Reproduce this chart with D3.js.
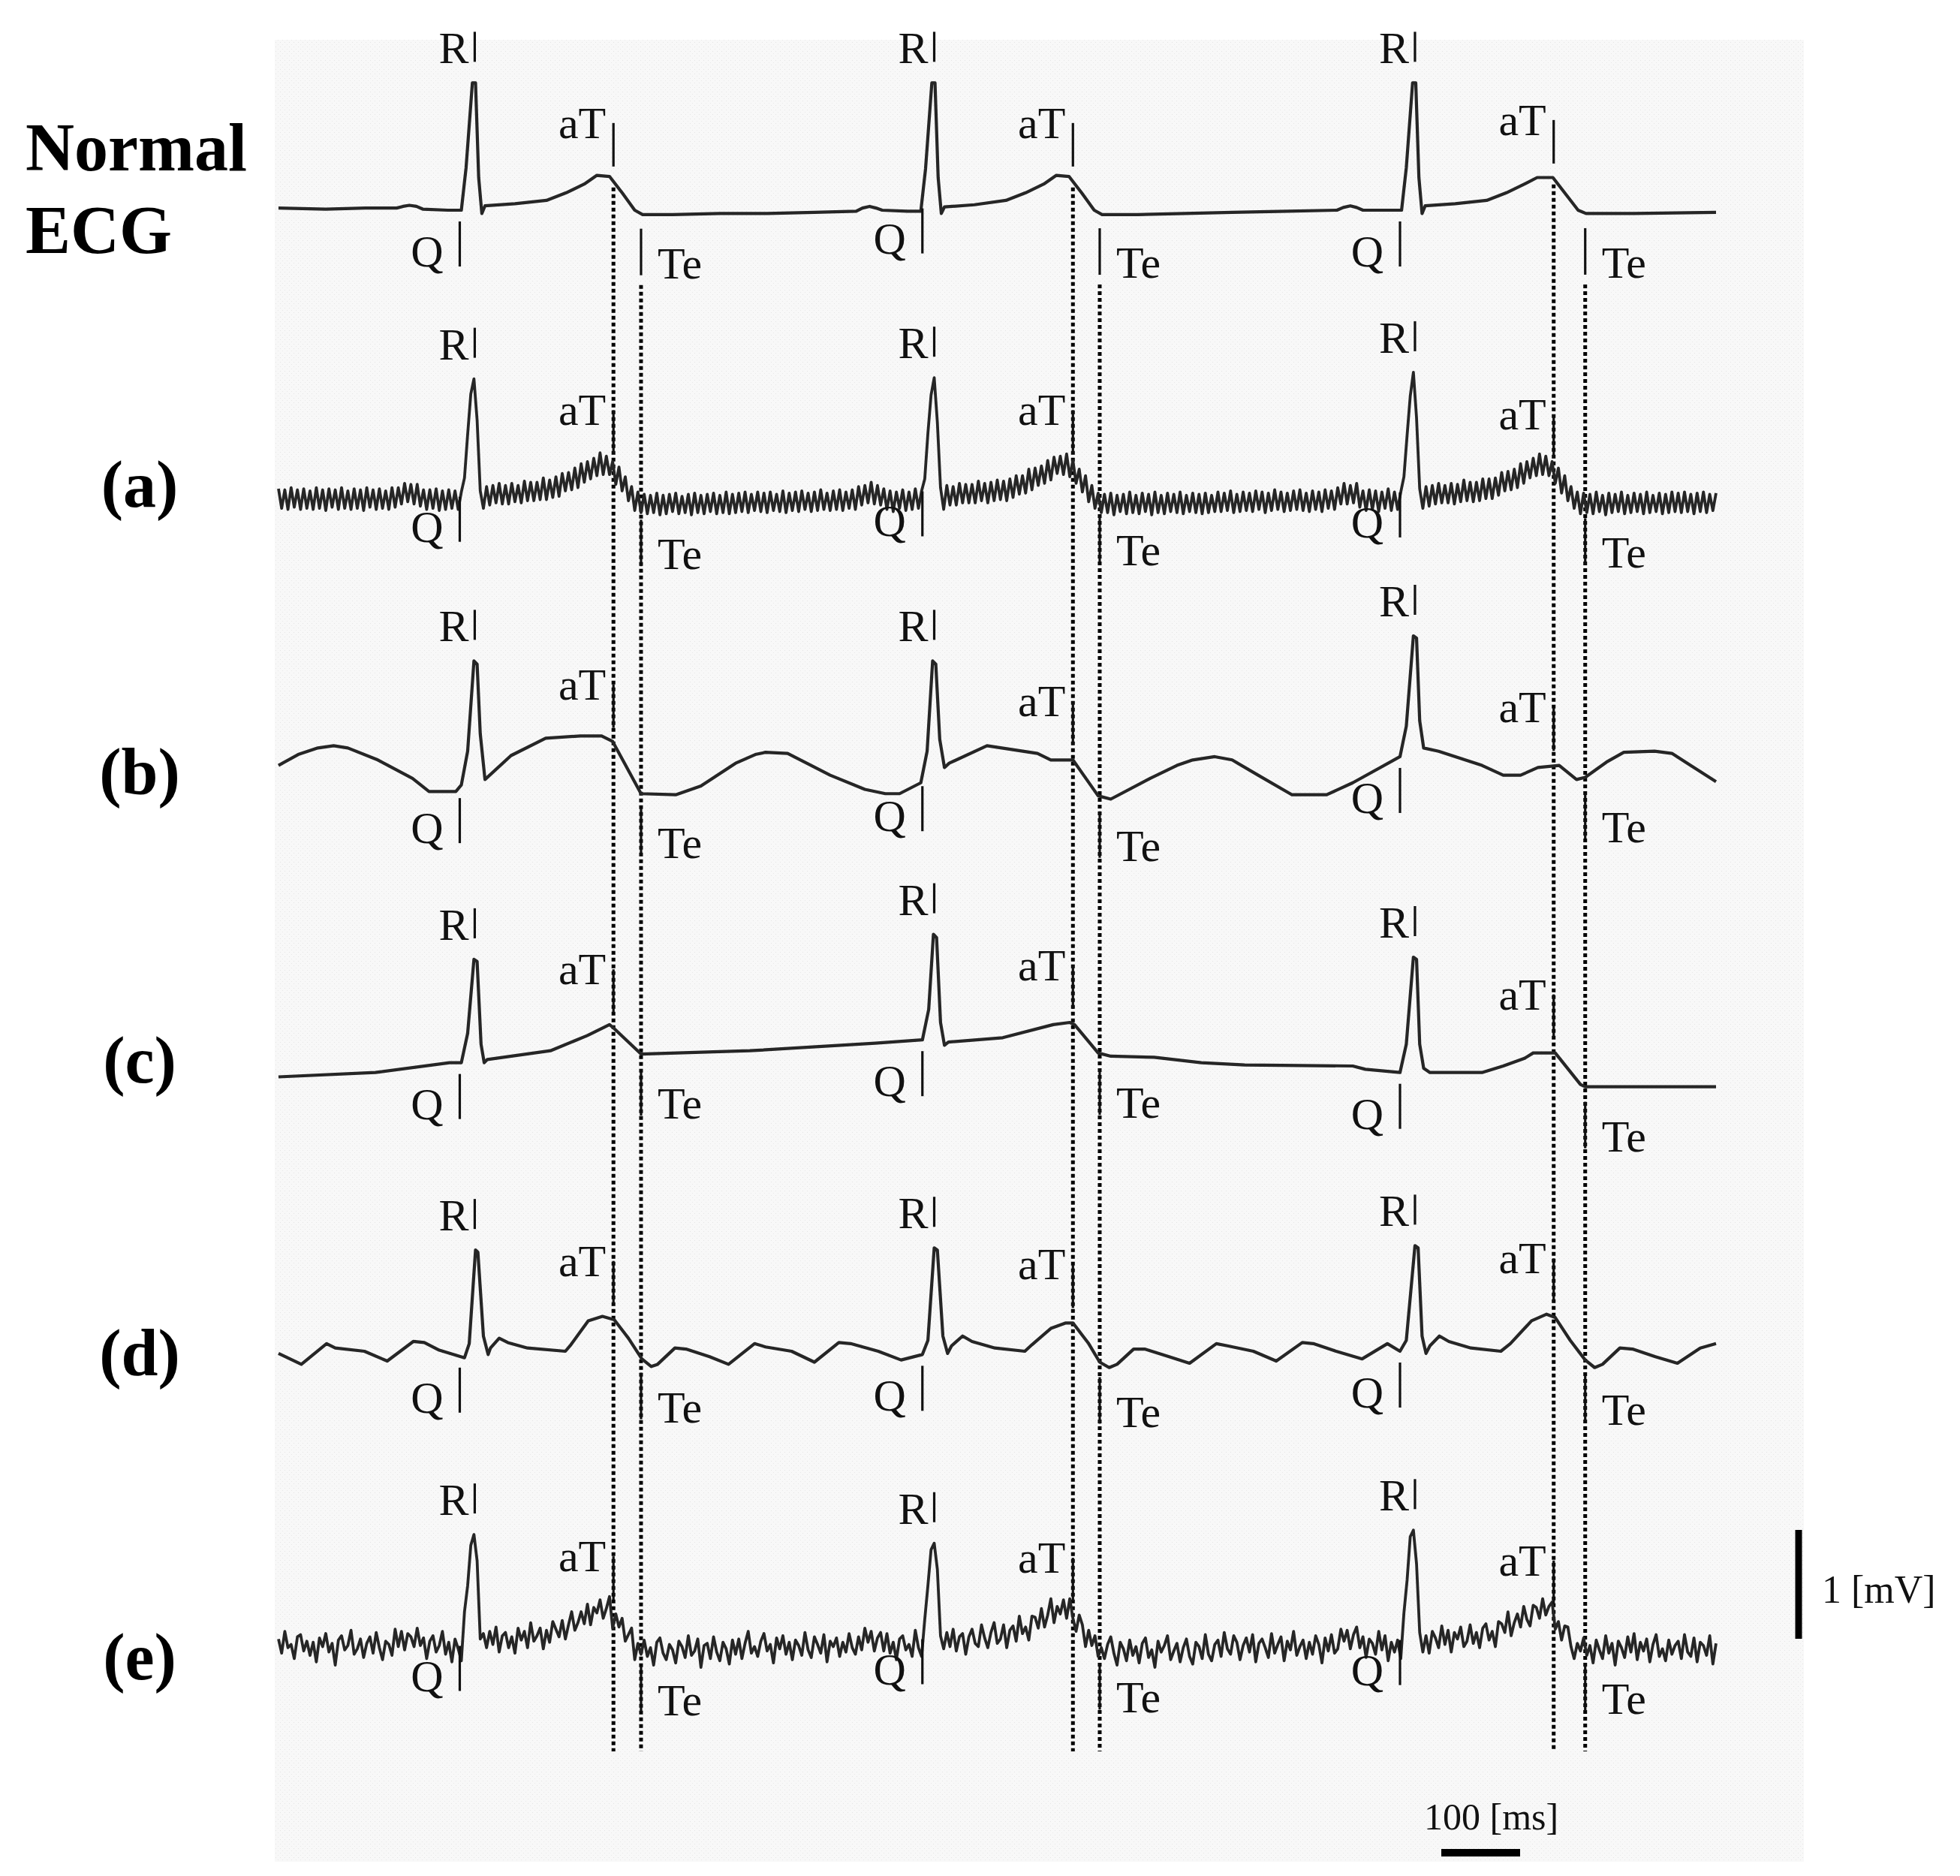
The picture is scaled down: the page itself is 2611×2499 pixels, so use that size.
<!DOCTYPE html>
<html><head><meta charset="utf-8">
<script src="https://cdn.jsdelivr.net/npm/d3@7"></script>
<style>body{margin:0;background:#fff}svg{display:block}</style>
</head><body>
<svg id="chart" width="2611" height="2499"></svg>
<script>
// ---------------- DATA (time in ms, amplitude in mV) ----------------
const rowLabels = ["Normal|ECG", "(a)", "(b)", "(c)", "(d)", "(e)"];
const qTimes  = [230, 817, 1423];
const rTimes  = [249, 832, 1442];
const aTTimes = [425, 1008, 1618];
const teTimes = [460, 1042, 1658];
const scaleMv = 1;      // vertical scale bar: 1 mV
const scaleMs = 100;    // horizontal scale bar: 100 ms
const sampleMs = 4;     // sampling step of the noisy traces (a) and (e)

const normalECG = [
[0,0.02],[60,0.01],[110,0.02],[150,0.02],[158,0.035],[166,0.045],[175,0.035],[183,0.01],[215,0.0],[232,0.0],[238,0.39],[246,1.17],[250,1.17],[254,0.30],[258,-0.03],[262,0.04],[300,0.06],[340,0.09],[365,0.16],[388,0.24],[404,0.32],[420,0.31],[436,0.16],[452,0.0],[462,-0.04],[500,-0.04],[560,-0.03],
[620,-0.03],[680,-0.02],[733,-0.01],[741,0.02],[750,0.035],[758,0.02],[766,0.0],[798,-0.01],[815,-0.01],[821,0.38],[829,1.17],[833,1.17],[837,0.30],[841,-0.03],[845,0.03],[883,0.05],[923,0.09],[948,0.16],[971,0.24],[987,0.32],[1003,0.31],[1019,0.16],[1035,0.0],[1045,-0.04],[1090,-0.04],[1150,-0.03],
[1210,-0.02],[1280,-0.01],[1343,0.0],[1351,0.025],[1360,0.04],[1368,0.025],[1376,0.0],[1408,0.0],[1425,0.0],[1431,0.39],[1439,1.17],[1443,1.17],[1447,0.30],[1451,-0.03],[1455,0.04],[1493,0.06],[1533,0.09],[1558,0.16],[1581,0.24],[1597,0.30],[1617,0.30],[1633,0.15],[1649,0.0],[1659,-0.03],[1720,-0.03],[1824,-0.02]
];

// (a) ECG with power-line interference, samples every 4 ms, in 0.01 mV
const rowA = [
11,-7,10,-8,12,-6,10,-8,11,-7, 9,-8,12,-7,10,-9,11,-6,10,-8, 12,-7,9,-8,11,-7,10,-9,12,-6, 10,-8,11,-7,9,-8,12,-6,
12,-3,16,-1,15,-3,15,-5,10, -8,10,-7,11,-9,9,-8,10,-7,9,-8, 8,21,61,98,112,74,9,-7,
13,-4,14,-2,16,-3,14,-3,16,-1, 14,-2,18,0,17,0,17,1,21,1, 19,3,22,4,25,9,26,10,30,12, 34,17,36,20,39,23,44,24,41,24, 36,15,31,9,22,0,13,-9,8,-11,
6,-12,5,-11,7,-13,5,-12,6,-10, 7,-12,4,-11,6,-13,7,-11,5,-12, 6,-10,7,-12,5,-11,8,-12,6,-11,
7,-10,8,-11,6,-9,8,-10,7,-11, 8,-9,6,-10,9,-11,7,-9,8,-10, 9,-8,7,-10,8,-9,10,-8,7,-9, 9,-8,10,-9,8,-7,10,-8,
13,-4,14,-2,17,-3,14,-4,11, -8,9,-10,8,-7,10,-9,8,-8,11,-7, 9,20,62,97,113,72,12,-8,
14,-4,13,-4,16,-2,15,-2,15,-2, 18,0,16,-2,17,0,19,1,18,0, 20,3,23,6,23,7,29,10,30,14, 32,16,37,19,40,25,41,24,43,22, 37,16,29,8,23,-1,14,-7,7,-11,
6,-11,7,-13,5,-10,6,-12,8,-11, 5,-12,7,-10,6,-13,8,-11,5,-12, 7,-10,6,-11,8,-12,5,-10,7,-11, 6,-12,7,-11,5,-10,
8,-10,7,-9,9,-11,6,-10,8,-9, 7,-10,9,-8,8,-11,7,-9,10,-8, 8,-10,7,-9,9,-8,10,-9,7,-10, 9,-8,8,-10,10,-7,9,-8,
12,-3,16,-3,14,-2,16,-6,9, -9,10,-8,9,-10,8,-7,11,-9,8,-8, 8,22,60,96,118,76,11,-7,
13,-5,14,-3,16,-2,14,-2,16,-3, 15,-1,19,0,17,-1,17,0,20,2, 20,2,21,5,26,9,27,10,29,12, 34,16,36,21,39,23,43,24,41,23, 36,16,30,7,23,0,13,-7,8,-12,
7,-11,6,-12,8,-10,5,-13,7,-11, 6,-10,8,-12,5,-11,7,-10,6,-12, 8,-11,5,-10,7,-12,6,-11,8,-10,
7,-11,8,-10,6,-12,7,-10,8,-11,6,-9,7
];

// (b) ECG with baseline wander
const rowB = [
[0,0.21],[25,0.31],[50,0.37],[70,0.39],[88,0.37],[126,0.26],[170,0.09],[191,-0.03],[225,-0.03],[232,0.03],[240,0.34],[248,1.17],[252,1.14],[256,0.5],[262,0.08],[295,0.30],[339,0.46],[383,0.48],[410,0.48],[424,0.43],[460,-0.05],[504,-0.06],[536,0.02],[580,0.23],[605,0.31],[618,0.33],[646,0.32],[700,0.12],[744,-0.01],[770,-0.05],[788,-0.05],[815,0.05],
[823,0.34],[830,1.17],[834,1.14],[839,0.45],[845,0.19],[851,0.23],[899,0.39],[963,0.32],[980,0.26],[1008,0.26],[1040,-0.07],[1056,-0.10],[1106,0.09],[1140,0.21],[1160,0.26],[1188,0.29],[1210,0.26],[1243,0.12],[1286,-0.06],[1330,-0.06],[1363,0.05],
[1423,0.29],[1431,0.57],[1440,1.40],[1444,1.38],[1448,0.62],[1453,0.37],[1472,0.34],[1527,0.21],[1554,0.12],[1576,0.12],[1598,0.19],[1625,0.21],[1647,0.08],[1658,0.10],[1685,0.24],[1707,0.33],[1746,0.34],[1768,0.32],[1824,0.06]
];

// (c) ECG with baseline drift
const rowC = [
[0,-0.10],[123,-0.06],[217,0.03],[232,0.03],[240,0.30],[248,0.98],[252,0.96],[257,0.20],[261,0.03],[265,0.06],[345,0.14],[392,0.28],[420,0.38],[425,0.35],[460,0.11],[598,0.14],[757,0.21],[817,0.24],
[825,0.52],[831,1.21],[835,1.18],[840,0.40],[845,0.19],[850,0.22],[919,0.26],[983,0.38],[1004,0.40],[1010,0.38],[1040,0.12],[1056,0.09],[1111,0.08],[1171,0.03],[1226,0.01],[1363,0.0],[1379,-0.03],[1423,-0.06],
[1431,0.20],[1440,1.00],[1444,0.98],[1448,0.20],[1453,-0.02],[1461,-0.06],[1527,-0.06],[1554,0.0],[1581,0.07],[1592,0.12],[1620,0.12],[1652,-0.17],[1658,-0.19],[1824,-0.19]
];

// (d) ECG with periodic artefact
const rowD = [
[0,-0.02],[29,-0.12],[61,0.07],[72,0.03],[109,0.0],[138,-0.09],[171,0.09],[185,0.08],[204,0.01],[236,-0.06],[242,0.07],[250,0.93],[253,0.91],[260,0.14],[266,-0.03],[269,0.03],[280,0.12],[291,0.08],[316,0.03],[364,0.0],[371,0.06],[393,0.28],[411,0.32],[426,0.29],[444,0.12],[461,-0.07],[473,-0.14],[481,-0.12],[503,0.03],[517,0.02],[547,-0.05],[571,-0.12],[604,0.07],[618,0.04],[651,0.0],[680,-0.10],[711,0.08],[726,0.07],[761,0.0],[790,-0.08],
[817,-0.03],[824,0.10],[832,0.95],[836,0.93],[843,0.14],[849,-0.02],[854,0.05],[868,0.14],[880,0.09],[909,0.03],[947,0.0],[956,0.06],[980,0.21],[999,0.26],[1008,0.26],[1028,0.07],[1042,-0.10],[1054,-0.15],[1064,-0.12],[1085,0.02],[1099,0.02],[1130,-0.05],[1156,-0.11],[1190,0.07],[1204,0.05],[1237,0.0],[1266,-0.09],[1299,0.08],[1313,0.07],[1342,0.0],[1375,-0.07],[1407,0.07],
[1423,0.0],[1431,0.10],[1442,0.97],[1446,0.95],[1451,0.14],[1456,-0.02],[1461,0.05],[1473,0.14],[1485,0.09],[1513,0.03],[1551,0.0],[1563,0.07],[1590,0.28],[1609,0.34],[1620,0.31],[1639,0.10],[1658,-0.08],[1670,-0.15],[1680,-0.12],[1702,0.03],[1718,0.02],[1747,-0.05],[1775,-0.11],[1804,0.03],[1824,0.07]
];

// (e) ECG with random noise, samples every 4 ms, in 0.01 mV
const rowE = [
6,-7,13,-2,1,-12,8,10,-5,4, -9,3,-15,7,-1,11,-6,2,-18,5, 9,-4,0,14,-8,-3,6,-11,2,8, -7,12,-2,-13,4,1,-9,15,
-1,13,-4,11,8,-1,16,0,7, -12,4,9,-6,0,13,-8,3,-15,6,-3, -14,31,55,92,102,78,6,11,
-2,13,1,17,-6,9,12,-2,8,-7, 16,5,13,-2,21,4,9,16,-3,14, 3,22,15,8,23,6,19,31,14,21, 31,20,38,19,35,30,42,25,34,45, 16,29,17,25,4,10,16,-13,2,-8,
5,-10,-2,-18,3,7,-7,-13,1,-4, -16,4,-1,-11,9,-9,-5,6,-20,0, 2,-12,8,-6,-14,3,-3,-17,5,-8,
6,-12,2,13,-7,-1,-10,4,11,-5, 1,-16,7,-3,9,-8,3,-13,5,0, -9,12,-4,-11,8,1,-7,10,-15,4, -1,7,-10,3,-6,11,-2,-8,
8,-4,16,3,13,-5,7,12,-5, 11,-7,3,-13,6,9,-4,1,-10,14,-2, -10,24,55,88,94,70,9,-3,
12,-1,15,-5,8,11,-8,8,15,2, -1,19,7,-2,12,21,2,6,19,-2, 14,18,4,27,11,17,5,27,26,16, 34,17,28,43,21,36,29,42,25,43, 25,13,28,19,-1,14,0,9,-10,-2,
-12,1,8,-7,-18,3,-3,-14,5,-9, -1,-16,2,7,-11,-4,-20,4,-6,0, 9,-13,-5,2,-15,-2,6,-10,-17,3, -1,-12,10,-8,-14,1,
5,-10,12,-3,-8,9,3,-13,0,7, -6,10,-15,2,6,-2,-11,11,-7,1, 8,-14,4,-4,13,-9,-1,5,-12,3, -8,9,1,-16,7,-5,10,-7,
-3,15,4,14,-3,10,17,-2,8, -11,6,2,-8,13,-4,9,-14,3,-6,5, -12,30,60,100,106,75,12,-6,
9,-7,13,7,-2,18,1,14,-6,12, 6,17,-1,4,19,2,12,-2,16,20, 5,13,-1,22,20,12,31,9,21,29, 17,36,24,18,37,35,25,43,28,36, 40,15,22,5,18,17,-1,-12,2,-5,
7,-9,0,-16,5,-4,-12,9,-7,2, -18,4,-2,-11,8,-6,11,-13,3,-5, 6,-15,1,10,-10,-3,-14,5,-8,0,
4,-12,10,-6,-10,7,-15,3,0,-9,9,-17,2
];

// ---------------- LAYOUT ----------------
const PX_PER_MV = 145;
const rowBase = [280, 667, 1050, 1420, 1800, 2192];
const rowLabelY = [[227, 337], [675], [1058], [1442], [1832], [2237]];
const serif = "'Liberation Serif','Times New Roman',serif";
const ink = "#111";

const svg = d3.select("#chart");
const x = d3.scaleLinear().domain([0, 1824]).range([371, 2286]);
const yScales = rowBase.map(b => d3.scaleLinear().domain([0, 1]).range([b, b - PX_PER_MV]));

const toSeries = vals => vals.map((v, i) => [i * sampleMs, v / 100]);
const series = [normalECG, toSeries(rowA), rowB, rowC, rowD, toSeries(rowE)];
const noisy = [false, true, false, false, false, true];

// background panel (light dotted paper)
const defs = svg.append("defs");
const pat = defs.append("pattern").attr("id", "paper").attr("width", 6).attr("height", 6)
  .attr("patternUnits", "userSpaceOnUse");
pat.append("rect").attr("width", 6).attr("height", 6).attr("fill", "#f8f8f8");
pat.append("rect").attr("x", 1).attr("y", 2).attr("width", 1).attr("height", 1).attr("fill", "#e4e4e4");
pat.append("rect").attr("x", 4).attr("y", 5).attr("width", 1).attr("height", 1).attr("fill", "#e8e8e8");
svg.append("rect").attr("x", 366).attr("y", 53).attr("width", 2037).attr("height", 2427)
  .attr("fill", "url(#paper)");

function valueAt(ri, t) {
  const s = series[ri];
  if (noisy[ri]) {
    const near = s.filter(d => Math.abs(d[0] - t) <= 10);
    return d3.mean(near, d => d[1]);
  }
  const f = d3.scaleLinear().domain(s.map(d => d[0])).range(s.map(d => d[1]));
  return f(t);
}
function peakAt(ri, t) {
  const s = series[ri];
  const near = s.filter(d => Math.abs(d[0] - t) <= 8);
  return d3.max(near, d => d[1]);
}

// dotted guide lines
const gGuide = svg.append("g");
const yGuideEnd = 2333;
aTTimes.forEach(t => {
  const top = yScales[0](valueAt(0, t)) + 8;
  gGuide.append("line").attr("x1", x(t)).attr("x2", x(t)).attr("y1", top).attr("y2", yGuideEnd)
    .attr("stroke", "#000").attr("stroke-width", 5).attr("stroke-dasharray", "5,4");
});
teTimes.forEach(t => {
  const top = yScales[0](valueAt(0, t)) + 95;
  gGuide.append("line").attr("x1", x(t)).attr("x2", x(t)).attr("y1", top).attr("y2", yGuideEnd)
    .attr("stroke", "#000").attr("stroke-width", 5).attr("stroke-dasharray", "5,4");
});

// traces
series.forEach((s, ri) => {
  const line = d3.line().x(d => x(d[0])).y(d => yScales[ri](d[1]));
  svg.append("path").datum(s).attr("d", line).attr("fill", "none")
    .attr("stroke", "#262626").attr("stroke-width", noisy[ri] ? 3.8 : 4.2)
    .attr("stroke-linejoin", "round");
});

// annotations
const gAnn = svg.append("g").attr("font-family", serif).attr("font-size", 60).attr("fill", ink);
function tick(xp, y1, y2) {
  gAnn.append("line").attr("x1", xp).attr("x2", xp).attr("y1", y1).attr("y2", y2)
    .attr("stroke", ink).attr("stroke-width", 3.2);
}
function label(txt, xp, yp, anchor) {
  gAnn.append("text").attr("x", xp).attr("y", yp).attr("text-anchor", anchor).text(txt);
}
series.forEach((s, ri) => {
  const y = yScales[ri];
  rTimes.forEach((t, bi) => {
    const yR = y(peakAt(ri, t));
    tick(x(t), yR - 68, yR - 28);
    label("R", x(t) - 8, yR - 26, "end");

    const yQ = y(valueAt(ri, qTimes[bi]));
    tick(x(qTimes[bi]), yQ + 15, yQ + 75);
    label("Q", x(qTimes[bi]) - 22, yQ + 75, "end");

    const yA = y(valueAt(ri, aTTimes[bi]));
    tick(x(aTTimes[bi]), yA - 78, yA - 20);
    label("aT", x(aTTimes[bi]) - 10, yA - 58, "end");

    const yE = y(valueAt(ri, teTimes[bi]));
    tick(x(teTimes[bi]), yE + 20, yE + 82);
    label("Te", x(teTimes[bi]) + 22, yE + 86, "start");
  });
});

// row labels
const gRow = svg.append("g").attr("font-family", serif).attr("font-weight", "bold").attr("fill", "#000");
rowLabels.forEach((lab, ri) => {
  const parts = lab.split("|");
  if (parts.length > 1) {
    parts.forEach((p, k) => gRow.append("text").attr("x", 34).attr("y", rowLabelY[ri][k])
      .attr("font-size", 90).text(p));
  } else {
    gRow.append("text").attr("x", 186).attr("y", rowLabelY[ri][0]).attr("text-anchor", "middle")
      .attr("font-size", 88).text(lab);
  }
});

// scale bars
const gScale = svg.append("g").attr("font-family", serif).attr("fill", ink);
const mvBottom = 2183, mvX = 2396;
const mvLen = yScales[0](0) - yScales[0](scaleMv);
gScale.append("line").attr("x1", mvX).attr("x2", mvX).attr("y1", mvBottom).attr("y2", mvBottom - mvLen)
  .attr("stroke", "#000").attr("stroke-width", 9);
gScale.append("text").attr("x", 2427).attr("y", 2135).attr("font-size", 52).text(scaleMv + " [mV]");

const msLeft = 1920, msY = 2468;
const msLen = x(scaleMs) - x(0);
gScale.append("line").attr("x1", msLeft).attr("x2", msLeft + msLen).attr("y1", msY).attr("y2", msY)
  .attr("stroke", "#000").attr("stroke-width", 10);
gScale.append("text").attr("x", 1897).attr("y", 2437).attr("font-size", 50).text(scaleMs + " [ms]");
</script>
</body></html>
